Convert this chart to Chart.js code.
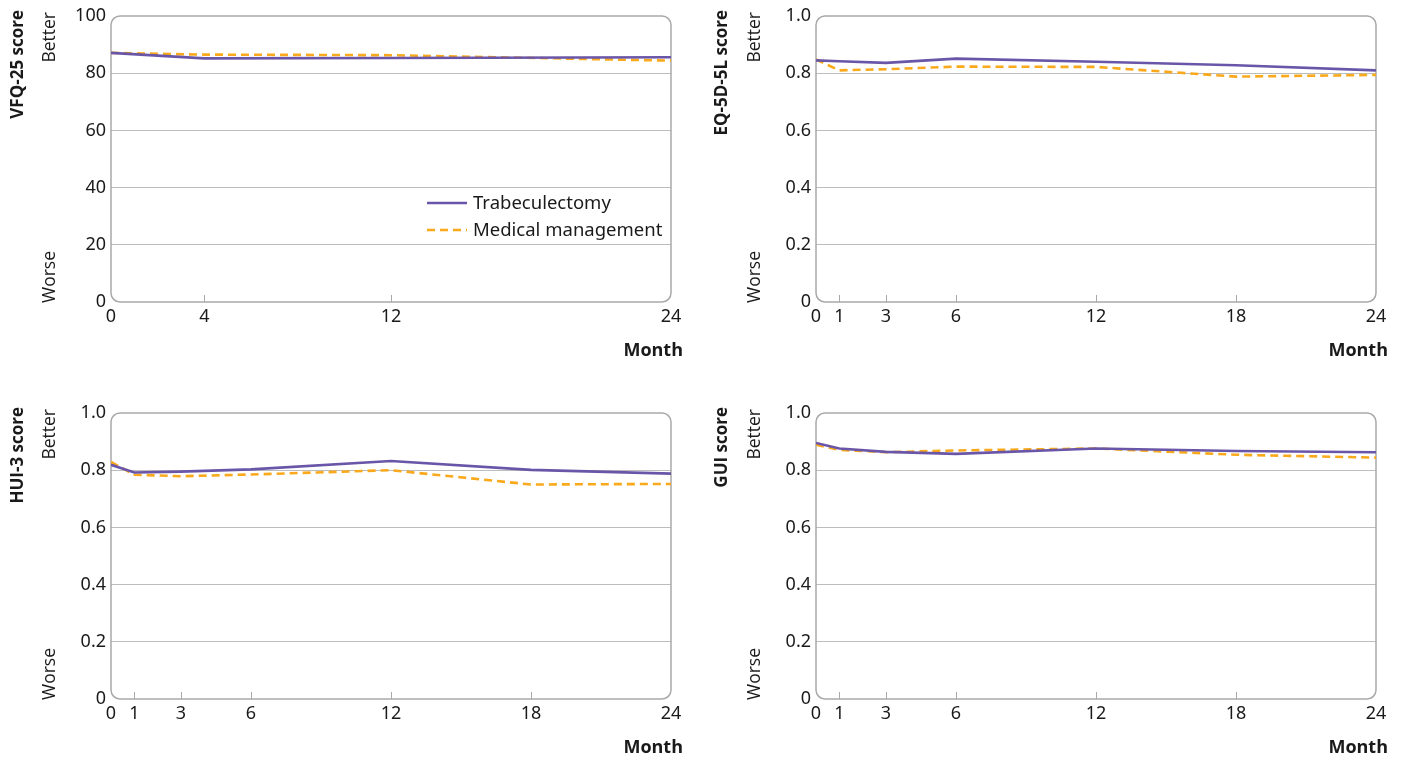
<!DOCTYPE html>
<html>
<head>
<meta charset="utf-8">
<script src="https://cdn.jsdelivr.net/npm/chart.js@4.4.1/dist/chart.umd.min.js"></script>
<style>
  body { margin: 0; background: #fff; }
  .panel { position: absolute; }
</style>
</head>
<body>
<div class="panel" style="left:0;top:0"><canvas id="vfq" width="700" height="380"></canvas></div>
<div class="panel" style="left:700px;top:0"><canvas id="eq" width="702" height="380"></canvas></div>
<div class="panel" style="left:0;top:380px"><canvas id="hui" width="700" height="381"></canvas></div>
<div class="panel" style="left:700px;top:380px"><canvas id="gui" width="702" height="381"></canvas></div>
<script>
// months at which each score was measured (also the x tick labels)
const vfqMonths = [0, 4, 12, 24];
const utilMonths = [0, 1, 3, 6, 12, 18, 24];

// y tick values
const vfqYTicks = [0, 20, 40, 60, 80, 100];
const utilYTicks = [0, 0.2, 0.4, 0.6, 0.8, 1.0];

// VFQ-25
const vfqTrab = [87.1, 85.2, 85.3, 85.6];
const vfqMed = [87.1, 86.5, 86.3, 84.4];

// EQ-5D-5L
const eqTrab = [0.845, 0.842, 0.836, 0.851, 0.840, 0.828, 0.810];
const eqMed = [0.848, 0.810, 0.814, 0.823, 0.822, 0.788, 0.794];

// HUI-3
const huiTrab = [0.819, 0.792, 0.795, 0.803, 0.832, 0.801, 0.788];
const huiMed = [0.829, 0.784, 0.779, 0.785, 0.800, 0.750, 0.752];

// GUI
const guiTrab = [0.895, 0.876, 0.864, 0.857, 0.876, 0.867, 0.863];
const guiMed = [0.889, 0.871, 0.863, 0.869, 0.876, 0.854, 0.844];

const seriesNames = ["Trabeculectomy", "Medical management"];
const purple = "#6a56a8";
const orange = "#f9a91b";
const tickFont = { family: "'Noto Sans', sans-serif", size: 18 };

const panelDecor = {
  id: "panelDecor",
  beforeDatasetsDraw(chart, args, o) {
    const ctx = chart.ctx, a = chart.chartArea, xs = chart.scales.x;
    ctx.save();
    ctx.strokeStyle = "#a9a9a9";
    ctx.lineWidth = 1.5;
    ctx.beginPath();
    ctx.roundRect(a.left, a.top, a.right - a.left, a.bottom - a.top, 9);
    ctx.stroke();
    // small tick marks pointing up from the bottom edge
    ctx.lineWidth = 1;
    xs.ticks.forEach(t => {
      if (t.value > xs.min && t.value < xs.max) {
        const px = Math.round(xs.getPixelForValue(t.value)) + 0.5;
        ctx.beginPath();
        ctx.moveTo(px, a.bottom - 7);
        ctx.lineTo(px, a.bottom);
        ctx.stroke();
      }
    });
    ctx.restore();
  },
  afterDraw(chart, args, o) {
    const ctx = chart.ctx, a = chart.chartArea;
    ctx.save();
    ctx.fillStyle = "#1a1a1a";
    ctx.textBaseline = "middle";

    // score title, Better, Worse (rotated)
    ctx.save();
    ctx.translate(o.titleX, a.top - 6);
    ctx.rotate(-Math.PI / 2);
    ctx.textAlign = "right";
    ctx.font = "bold 17px 'Open Sans', sans-serif";
    ctx.fillText(o.title, 0, 0);
    ctx.restore();

    ctx.font = "17.5px 'Open Sans', sans-serif";
    ctx.save();
    ctx.translate(o.sideX, a.top - 4);
    ctx.rotate(-Math.PI / 2);
    ctx.textAlign = "right";
    ctx.fillText("Better", 0, 0);
    ctx.restore();
    ctx.save();
    ctx.translate(o.sideX, a.bottom + 1);
    ctx.rotate(-Math.PI / 2);
    ctx.textAlign = "left";
    ctx.fillText("Worse", 0, 0);
    ctx.restore();

    // axis name
    ctx.font = "bold 18px 'Open Sans', sans-serif";
    ctx.textAlign = "right";
    ctx.fillText("Month", a.right + 12, a.bottom + 49);

    if (o.legend) {
      const lx = a.left + 316, ly = a.top + 187;
      chart.data.datasets.forEach((ds, i) => {
        const y = ly + i * 27;
        ctx.save();
        ctx.strokeStyle = ds.borderColor;
        ctx.lineWidth = 2.5;
        ctx.setLineDash(ds.borderDash || []);
        ctx.beginPath();
        ctx.moveTo(lx, y);
        ctx.lineTo(lx + 40, y);
        ctx.stroke();
        ctx.restore();
        ctx.font = "18.5px 'Noto Sans', sans-serif";
        ctx.textAlign = "left";
        ctx.fillText(ds.label, lx + 46, y + 1);
      });
    }
    ctx.restore();
  }
};

function makePanel(id, months, trab, med, yTicks, yMax, areaLeft, areaBottom, topPad, rightPad, decor) {
  const canvas = document.getElementById(id);
  new Chart(canvas, {
    type: "line",
    data: {
      datasets: [
        {
          label: seriesNames[0],
          data: months.map((m, i) => ({ x: m, y: trab[i] })),
          borderColor: purple,
          borderWidth: 2.6,
          order: 1
        },
        {
          label: seriesNames[1],
          data: months.map((m, i) => ({ x: m, y: med[i] })),
          borderColor: orange,
          borderWidth: 2.6,
          borderDash: [8, 5],
          order: 2
        }
      ]
    },
    options: {
      responsive: false,
      animation: false,
      layout: { padding: { top: topPad, right: rightPad, left: 0, bottom: 0 } },
      elements: { point: { radius: 0 }, line: { tension: 0 } },
      plugins: {
        legend: { display: false },
        tooltip: { enabled: false },
        panelDecor: decor
      },
      scales: {
        x: {
          type: "linear",
          min: 0,
          max: 24,
          afterBuildTicks: s => { s.ticks = months.map(v => ({ value: v })); },
          afterFit: s => { s.height = canvas.height - areaBottom; },
          grid: { display: false, drawTicks: false },
          border: { display: false },
          ticks: { font: tickFont, color: "#1a1a1a", padding: 4, maxRotation: 0, autoSkip: false, callback: v => String(v) }
        },
        y: {
          min: 0,
          max: yMax,
          afterBuildTicks: s => { s.ticks = yTicks.map(v => ({ value: v })); },
          afterFit: s => { s.width = areaLeft; },
          grid: {
            drawTicks: false,
            color: c => (c.tick.value === 0 || c.tick.value === yMax) ? "rgba(0,0,0,0)" : "#bdbdbd",
            lineWidth: 1
          },
          border: { display: false },
          ticks: {
            font: tickFont, color: "#1a1a1a", padding: 5,
            callback: v => v === 0 ? "0" : (yMax === 100 ? String(v) : v.toFixed(1))
          }
        }
      }
    },
    plugins: [panelDecor]
  });
}

makePanel("vfq", vfqMonths, vfqTrab, vfqMed, vfqYTicks, 100, 111, 302, 16, 29,
  { title: "VFQ-25 score", titleX: 18, sideX: 50, legend: true });
makePanel("eq", utilMonths, eqTrab, eqMed, utilYTicks, 1, 116, 302, 16, 26,
  { title: "EQ-5D-5L score", titleX: 22, sideX: 55, legend: false });
makePanel("hui", utilMonths, huiTrab, huiMed, utilYTicks, 1, 111, 319, 33, 29,
  { title: "HUI-3 score", titleX: 18, sideX: 50, legend: false });
makePanel("gui", utilMonths, guiTrab, guiMed, utilYTicks, 1, 116, 319, 33, 26,
  { title: "GUI score", titleX: 22, sideX: 55, legend: false });
</script>
</body>
</html>
